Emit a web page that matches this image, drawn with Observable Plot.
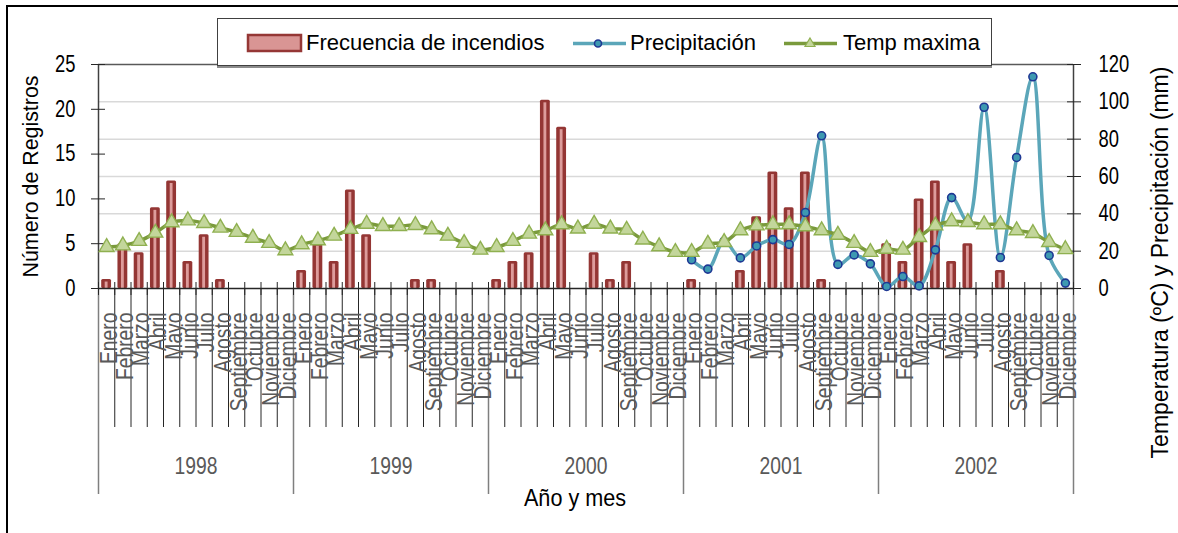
<!DOCTYPE html>
<html>
<head>
<meta charset="utf-8">
<script src="https://cdn.jsdelivr.net/npm/d3@7"></script>
<script src="https://cdn.jsdelivr.net/npm/@observablehq/plot@0.6"></script>
<style>
  html, body { margin: 0; padding: 0; background: #fff; }
  #wrap { position: relative; width: 1178px; height: 533px; overflow: hidden; font-family: 'Liberation Sans', Arial, sans-serif; }
  #wrap svg.plot { position: absolute; left: 0; top: 0; }
  #frame { position: absolute; left: 6px; top: 5px; width: 1300px; height: 700px; border-top: 2.5px solid #000; border-left: 2.5px solid #000; pointer-events: none; }
  #legend { position: absolute; left: 217px; top: 18px; width: 775px; height: 48px; box-sizing: border-box; background: #fff; border: 1px solid #404040; box-shadow: 0 2px 0 #8c8c8c; }
  #legend svg { position: absolute; left: 0; top: 0; }
  #legend span { position: absolute; top: 13px; font-size: 22px; line-height: 22px; color: #000; white-space: nowrap; }
</style>
</head>
<body>
<div id="wrap"><div id="frame"></div></div>
<script>
// ---- data ----
const years = [1998, 1999, 2000, 2001, 2002];
const months = ["Enero","Febrero","Marzo","Abril","Mayo","Junio","Julio","Agosto","Septiembre","Octubre","Noviembre","Diciembre"];

// Frecuencia de incendios (número de registros), Enero 1998 .. Diciembre 2002
const incendios = [
  1, 5, 4, 9, 12, 3, 6, 1, 0, 0, 0, 0,
  2, 5, 3, 11, 6, 0, 0, 1, 1, 0, 0, 0,
  1, 3, 4, 21, 18, 0, 4, 1, 3, 0, 0, 0,
  1, 0, 0, 2, 8, 13, 9, 13, 1, 0, 0, 0,
  5, 3, 10, 12, 3, 5, 0, 2, 0, 0, 0, 0
];

// Temp maxima (°C), Enero 1998 .. Diciembre 2002
const tempMaxima = [
  22.1, 23.0, 25.4, 29.8, 35.4, 36.4, 35.0, 32.5, 30.2, 27.1, 24.3, 20.4,
  23.6, 25.7, 28.2, 31.8, 34.6, 33.4, 33.4, 33.9, 31.6, 28.2, 24.3, 20.7,
  22.1, 25.4, 29.3, 31.1, 34.3, 32.0, 34.6, 32.0, 31.4, 26.1, 22.5, 19.5,
  19.5, 23.9, 24.8, 31.1, 33.7, 34.3, 34.3, 33.2, 31.1, 28.7, 24.3, 19.5,
  21.2, 20.7, 27.5, 33.7, 35.9, 35.5, 34.3, 34.3, 31.1, 29.6, 24.8, 21.0
];

// Precipitación (mm), only recorded Enero 2001 .. Diciembre 2002
const precipInicio = 2001;
const precipitacion = [
  15.4, 10.4, 25.4, 16.4, 22.8, 26.2, 23.6, 40.7, 81.8, 12.9, 18.0, 13.2,
  1.1, 6.4, 1.4, 20.7, 48.7, 36.0, 97.1, 16.6, 70.2, 113.4, 17.7, 2.9
];

const leftTicks = [0, 5, 10, 15, 20, 25];
const rightTicks = [0, 20, 40, 60, 80, 100, 120];

const leftTitle = "Número de Registros";
const rightTitle = "Temperatura (ºC) y Precipitación (mm)";
const xTitle = "Año y mes";
const legendLabels = ["Frecuencia de incendios", "Precipitación", "Temp maxima"];

// ---- derived tables ----
const k = 120 / 25;                 // left axis (0-25) mapped onto right axis (0-120)
const rows = [];
years.forEach((yr, yi) => months.forEach((m, mi) => {
  const i = yi * 12 + mi;
  rows.push({ i, year: yr, month: m, fires: incendios[i], temp: tempMaxima[i] });
}));
const p0 = years.indexOf(precipInicio) * 12;
const precipRows = precipitacion.map((v, j) => ({ i: p0 + j, v }));
const yearRows = years.map((yr, yi) => ({ yi, year: yr }));

const pxPerUnit = 224 / 120;
const monthSepDepth = -139 / pxPerUnit;
const yearSepDepth = -206 / pxPerUnit;

const font = "'Liberation Sans', Arial, sans-serif";
const cx = d => d.i + 0.5;

const chart = Plot.plot({
  width: 1178,
  height: 533,
  marginLeft: 98,
  marginRight: 105,
  marginTop: 64,
  marginBottom: 245,
  x: { type: "linear", domain: [0, rows.length] },
  y: { domain: [0, 120] },
  style: { fontFamily: font, fontSize: "23px", background: "transparent", overflow: "visible" },
  marks: [
    Plot.ruleY([20, 40, 60, 80, 100], { stroke: "#d9d9d9", strokeWidth: 1.5 }),
    // bars
    Plot.rectY(rows.filter(d => d.fires > 0), {
      x1: d => d.i, x2: d => d.i + 1, y1: 0, y2: d => d.fires * k,
      fill: "#943634", insetLeft: 3.2, insetRight: 3.2, rx: 1.5
    }),
    Plot.rectY(rows.filter(d => d.fires > 0), {
      x1: d => d.i, x2: d => d.i + 1, y1: 0, y2: d => d.fires * k,
      fill: "#dd9c9b", insetLeft: 6.7, insetRight: 6.7, insetTop: 2.5
    }),
    // axes lines / frame
    Plot.ruleY([120], { stroke: "#595959", strokeWidth: 1.5 }),
    Plot.ruleX([0, rows.length], { y1: 0, y2: 120, stroke: "#404040", strokeWidth: 1.5 }),
    // category separators below the axis
    Plot.ruleX(d3.range(1, rows.length), { y1: 0, y2: monthSepDepth, stroke: "#262626", strokeWidth: 1 }),
    Plot.ruleX(yearRows.map(d => d.yi * 12).concat([rows.length]), { y1: 0, y2: yearSepDepth, stroke: "#7f7f7f", strokeWidth: 1.5 }),
    Plot.ruleY([0], { stroke: "#262626", strokeWidth: 1.5 }),
    Plot.axisX({ ticks: d3.range(0, rows.length + 1), tickFormat: () => "", tickSize: 13, dy: -6, stroke: "#262626", label: null }),
    Plot.axisY({ anchor: "left", ticks: leftTicks.map(v => v * k), tickFormat: v => String(Math.round(v / k)),
      tickSize: 14, dx: 7, tickPadding: 16, fontSize: 23, label: null, color: "#000", stroke: "#262626" }),
    Plot.axisY({ anchor: "right", ticks: rightTicks, tickFormat: v => String(v),
      tickSize: 14, dx: -7, tickPadding: 18, fontSize: 23, label: null, color: "#000", stroke: "#262626" }),
    // precipitation
    Plot.line(precipRows, { x: cx, y: "v", stroke: "#5ba6b9", strokeWidth: 3.5, curve: "catmull-rom" }),
    Plot.dot(precipRows, { x: cx, y: "v", r: 4, fill: "#3d99b1", stroke: "#1f3894", strokeWidth: 1.6 }),
    // temperature
    Plot.line(rows, { x: cx, y: "temp", stroke: "#7a9a3c", strokeWidth: 3.5, curve: "catmull-rom" }),
    Plot.dot(rows, { x: cx, y: "temp", symbol: "triangle", r: 5.5, fill: "#c3d69b", stroke: "#8fb050", strokeWidth: 1.4 }),
    // category labels
    Plot.text(rows, { x: cx, y: 0, text: "month", rotate: -90, textAnchor: "end", dy: 24, dx: 3, fill: "#595959", fontSize: 23 }),
    Plot.text(yearRows, { x: d => d.yi * 12 + 6, y: 0, text: d => String(d.year), dy: 178.5, fill: "#595959", fontSize: 23 }),
    // titles
    Plot.text([leftTitle], { frameAnchor: "left", rotate: -90, textAnchor: "middle", lineAnchor: "middle", dx: -68, fill: "#000", fontSize: 23 }),
    Plot.text([rightTitle], { frameAnchor: "right", rotate: -90, textAnchor: "middle", lineAnchor: "middle", dx: 87, dy: 86, fill: "#000", fontSize: 23 }),
    Plot.text([xTitle], { frameAnchor: "bottom", textAnchor: "middle", lineAnchor: "middle", dx: -11, dy: 210, fill: "#000", fontSize: 23 })
  ]
});
chart.classList.add("plot");

// condense glyphs along the text direction, like the narrow source typeface
const yearStrings = years.map(String);
chart.querySelectorAll("text").forEach(t => {
  const s = t.textContent;
  let f = 1;
  if (months.includes(s) || yearStrings.includes(s)) f = 0.84;
  else if (/^\d+$/.test(s)) f = 0.8;
  else if (s === leftTitle) f = 0.93;
  else if (s === xTitle) f = 0.94;
  if (f === 1) return;
  const tr = t.getAttribute("transform") || "";
  t.setAttribute("transform", `${tr} scale(${f},1)`);
});

const wrap = document.getElementById("wrap");
wrap.insertBefore(chart, wrap.firstChild);

// legend
const legend = document.createElement("div");
legend.id = "legend";
legend.innerHTML = `
<svg width="775" height="48">
  <rect x="30" y="16" width="53" height="16" fill="#d99594" stroke="#953735" stroke-width="2.5"/>
  <line x1="355" x2="408" y1="24.5" y2="24.5" stroke="#5ba6b9" stroke-width="3.5"/>
  <circle cx="380" cy="24.5" r="3.5" fill="#3d99b1" stroke="#1f3894" stroke-width="1.6"/>
  <line x1="566" x2="619" y1="24.5" y2="24.5" stroke="#7a9a3c" stroke-width="3.5"/>
  <path d="M592,19 L597,27.5 L587,27.5 Z" fill="#c3d69b" stroke="#8fb050" stroke-width="1.2"/>
</svg>
<span style="left:88px">${legendLabels[0]}</span>
<span style="left:412px">${legendLabels[1]}</span>
<span style="left:625px">${legendLabels[2]}</span>`;
wrap.appendChild(legend);
</script>
</body>
</html>
